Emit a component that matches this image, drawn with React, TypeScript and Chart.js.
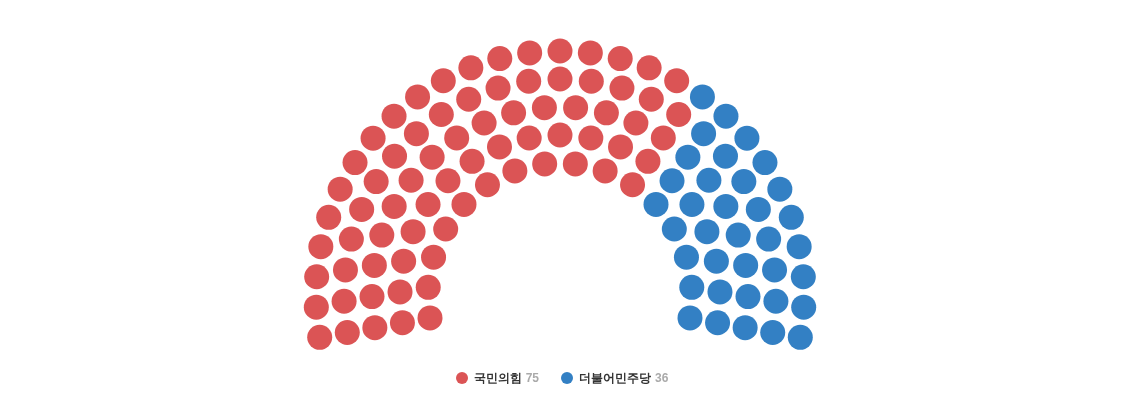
import { useEffect, useRef } from 'react';
import { Chart, ScatterController, PointElement, LinearScale } from 'chart.js';

Chart.register(ScatterController, PointElement, LinearScale);

const parties = ['국민의힘', '더불어민주당'];
const seats = [75, 36];
const colors = ['#db5455', '#3380c4'];

// seats per row, outer to inner, and row radius in chart units
const rowSeats = [29, 25, 22, 19, 16];
const rowRadius = [244, 216, 188, 160, 132];
const startAngle = -100;
const endAngle = 100;

function buildSlots() {
  const slots: { x: number; y: number; a: number }[] = [];
  rowSeats.forEach((n, r) => {
    for (let j = 0; j < n; j++) {
      const a = startAngle + ((endAngle - startAngle) * j) / (n - 1);
      const rad = (a * Math.PI) / 180;
      slots.push({ x: rowRadius[r] * Math.sin(rad), y: rowRadius[r] * Math.cos(rad), a });
    }
  });
  slots.sort((p, q) => p.a - q.a);
  return slots;
}

export default function App() {
  const canvasRef = useRef<HTMLCanvasElement>(null);
  const chartRef = useRef<Chart | null>(null);

  useEffect(() => {
    document.body.style.margin = '0';
    if (!canvasRef.current) return;
    chartRef.current?.destroy();

    const slots = buildSlots();
    let k = 0;
    const datasets = parties.map((p, i) => {
      const pts = slots.slice(k, k + seats[i]).map((s) => ({ x: s.x, y: s.y }));
      k += seats[i];
      return {
        label: p,
        data: pts,
        backgroundColor: colors[i],
        borderColor: colors[i],
        borderWidth: 0,
        pointRadius: 12.5,
        pointHoverRadius: 12.5,
      };
    });

    chartRef.current = new Chart(canvasRef.current, {
      type: 'scatter',
      data: { datasets },
      options: {
        animation: false,
        responsive: false,
        layout: { padding: 0, autoPadding: false },
        plugins: { legend: { display: false }, tooltip: { enabled: false } },
        scales: {
          x: { display: false, min: -560, max: 564 },
          y: { display: false, min: -114, max: 295 },
        },
      },
    });

    return () => {
      chartRef.current?.destroy();
      chartRef.current = null;
    };
  }, []);

  return (
    <div style={{ position: 'relative', width: 1124, height: 409, fontFamily: '"Liberation Sans", Arial, sans-serif' }}>
      <canvas ref={canvasRef} width={1124} height={409} style={{ width: 1124, height: 409, display: 'block' }} />
      <div
        style={{
          position: 'absolute',
          left: 0,
          top: 369,
          width: 1124,
          display: 'flex',
          justifyContent: 'center',
          gap: 22,
          fontSize: 12,
          fontWeight: 'bold',
          color: '#333',
        }}
      >
        {parties.map((p, i) => (
          <div key={p} style={{ display: 'flex', alignItems: 'center', lineHeight: '18px' }}>
            <span
              style={{ width: 12, height: 12, borderRadius: 6, background: colors[i], marginRight: 6, display: 'inline-block' }}
            />
            <span>{p}</span>
            <span style={{ color: '#aaa', marginLeft: 4 }}>{seats[i]}</span>
          </div>
        ))}
      </div>
    </div>
  );
}
